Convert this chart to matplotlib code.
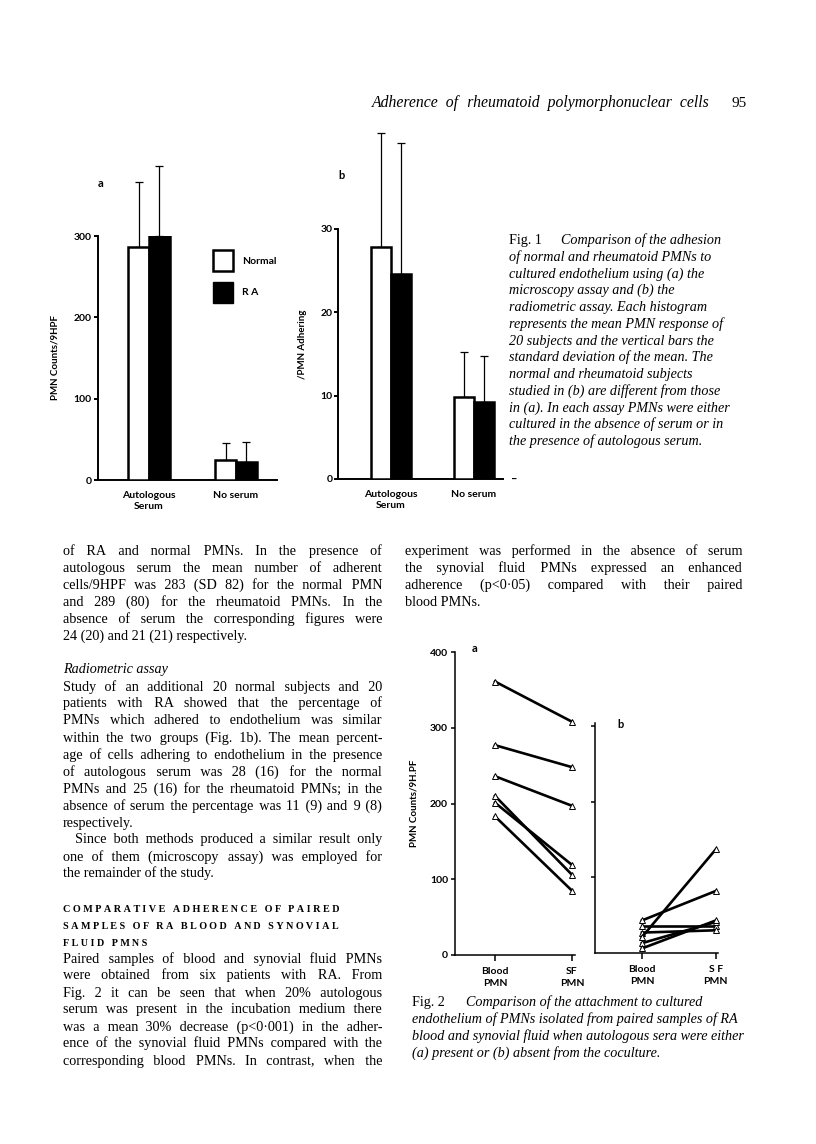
import matplotlib
matplotlib.use('Agg')
import matplotlib.pyplot as plt
from matplotlib.patches import Patch
from matplotlib.font_manager import FontProperties, findfont
from matplotlib.ft2font import FT2Font

W, H = 816, 1144

# Fig. 1 - mean adherence with SD (upper bars only)
groups = ['Autologous\nSerum', 'No serum']
micro_normal = [286, 24]
micro_normal_sd = [81, 22]
micro_ra = [300, 22]
micro_ra_sd = [86, 25]
radio_normal = [27.9, 9.9]
radio_normal_sd = [13.6, 5.4]
radio_ra = [24.6, 9.2]
radio_ra_sd = [15.7, 5.6]

# Fig. 2 - paired blood / synovial fluid PMNs
pair_labels = ['Blood\nPMN', 'SF\nPMN']
serum_blood = [361, 277, 236, 210, 201, 183]
serum_sf = [308, 248, 197, 106, 119, 85]
noserum_blood = [43, 36, 27, 21, 13, 6]
noserum_sf = [82, 36, 30, 137, 41, 43]

SANS = dict(family='Lato', weight='bold')
SERIF = 'Liberation Serif'

fig = plt.figure(figsize=(W / 100, H / 100), dpi=100)
renderer = fig.canvas.get_renderer()


def px_axes(left, top, right, bottom):
    return fig.add_axes([left / W, 1 - bottom / H, (right - left) / W, (bottom - top) / H])


def style(ax, lw=1.4, pad=1.5):
    for s in ['top', 'right']:
        ax.spines[s].set_visible(False)
    for s in ['left', 'bottom']:
        ax.spines[s].set_linewidth(lw)
    ax.tick_params(width=lw, length=3, labelsize=7.5)
    ax.tick_params(axis='y', pad=pad)
    for t in ax.get_yticklabels() + ax.get_xticklabels():
        t.set_fontfamily('Lato')
        t.set_fontweight('bold')


def put(s, x, y, **kw):
    return fig.text(x / W, 1 - y / H, s, va='baseline', **kw)


def width_of(s, **kw):
    t = fig.text(0, 0, s, **kw)
    w = t.get_window_extent(renderer).width
    t.remove()
    return w


# unicode spaces of different widths, used to stretch a line to a set width
_space_cache = {}


def space_set(**kw):
    key = tuple(sorted(kw.items()))
    if key not in _space_cache:
        fp = FontProperties(family=kw.get('family'), style=kw.get('style', 'normal'),
                            weight=kw.get('weight', 'normal'))
        ft = FT2Font(findfont(fp))
        base = width_of('xx', **kw)
        out = []
        for ch in '\u2003\u2002\u2004\u2005\u2006\u2009\u200a ':
            if ft.get_char_index(ord(ch)):
                w = width_of('x' + ch + 'x', **kw) - base
                if w > 0.3:
                    out.append((w, ch))
        out.sort(reverse=True)
        _space_cache[key] = out
    return _space_cache[key]


def gap(want, spaces):
    s, got = '', 0.0
    tol = spaces[-1][0] / 2
    for w, ch in spaces:
        while got + w <= want + tol:
            s += ch
            got += w
    return s, got


def justified(line, x0, x1, y, last=False, **kw):
    words = line.split()
    if last or len(words) < 2:
        put(line, x0, y, **kw)
        return
    spaces = space_set(**kw)
    extra = (x1 - x0 - width_of(' '.join(words), **kw)) / (len(words) - 1)
    out, carry = words[0], 0.0
    for w in words[1:]:
        g, got = gap(extra + carry, spaces)
        carry = extra + carry - got
        out += ' ' + g + w
    put(out, x0, y, **kw)


def tracked(text, x0, y, x1=None, extra=None, **kw):
    spaces = space_set(**kw)
    if extra is None:
        extra = (x1 - x0 - width_of(text, **kw)) / (len(text) - 1)
    out, carry = text[0], 0.0
    for ch in text[1:]:
        g, got = gap(extra + carry, spaces)
        carry = extra + carry - got
        out += g + ch
    put(out, x0, y, **kw)
    return extra


def bar_panel(ax, normal, nsd, ra, rsd, w=0.24):
    xs = list(range(len(groups)))
    ax.bar([x - w / 2 for x in xs], normal, w, color='white', edgecolor='black', lw=1.8, zorder=3)
    ax.bar([x + w / 2 for x in xs], ra, w, color='black', edgecolor='black', lw=1.8, zorder=3)
    for off, vals, sd in [(-w / 2, normal, nsd), (w / 2, ra, rsd)]:
        eb = ax.errorbar([x + off for x in xs], vals, yerr=[[0] * len(sd), sd], fmt='none',
                         ecolor='black', elinewidth=0.9, capsize=3, capthick=0.9, zorder=2)
        for a in eb.get_children():
            a.set_clip_on(False)
    ax.set_xticks(xs, groups, linespacing=1.3)


# ---- Fig 1a
ax = px_axes(98, 236, 277, 480)
bar_panel(ax, micro_normal, micro_normal_sd, micro_ra, micro_ra_sd)
ax.set_xlim(-0.586, 1.471)
ax.set_ylim(0, 300)
ax.set_yticks([0, 100, 200, 300])
style(ax)
ax.tick_params(axis='x', length=0, pad=8)
ax.set_ylabel('PMN Counts/9HPF', fontsize=7, labelpad=10, **SANS)
ax.text(0.0, 1.2, 'a', transform=ax.transAxes, fontsize=8, **SANS)
ax.legend(handles=[Patch(facecolor='white', edgecolor='black', lw=1.8),
                   Patch(facecolor='black', edgecolor='black')],
          labels=['Normal', 'R A'], loc='upper left', frameon=False,
          bbox_to_anchor=(213 / W, 1 - 250 / H), bbox_transform=fig.transFigure,
          borderpad=0, borderaxespad=0, handlelength=1.92, handleheight=2.7,
          handletextpad=0.9, labelspacing=1.05, prop=dict(family='Lato', weight='bold', size=7.5))

# ---- Fig 1b
ax = px_axes(338, 229, 503, 479)
bar_panel(ax, radio_normal, radio_normal_sd, radio_ra, radio_ra_sd)
ax.set_xlim(-0.64, 1.35)
ax.set_ylim(0, 30)
ax.set_yticks([0, 10, 20, 30])
style(ax, pad=1)
ax.tick_params(axis='x', length=0, pad=8)
ax.set_ylabel('/PMN Adhering', fontsize=7, **SANS)
ax.yaxis.set_label_coords(-0.185, 0.54)
ax.text(0.0, 1.2, 'b', transform=ax.transAxes, fontsize=8, **SANS)
ax.text(1.05, 0, '\u2013', transform=ax.transAxes, va='center', fontsize=8, **SANS)

# ---- Fig 2a
ax = px_axes(455, 652, 575, 955)
for b, s in zip(serum_blood, serum_sf):
    ax.plot([0, 1], [b, s], color='black', lw=1.9, marker='^', ms=4.5,
            mfc='white', mec='black', mew=0.7, clip_on=False)
ax.set_xlim(-0.52, 1.04)
ax.set_ylim(0, 400)
ax.set_yticks([0, 100, 200, 300, 400])
ax.set_xticks([0, 1], pair_labels, linespacing=1.3)
style(ax, lw=1.1, pad=2)
ax.tick_params(axis='x', length=4, pad=5)
ax.set_ylabel('PMN Counts/9H.PF', fontsize=7, labelpad=8, **SANS)
ax.text(0.14, 1.0, 'a', transform=ax.transAxes, fontsize=8, **SANS)

# ---- Fig 2b
ax = px_axes(595, 723, 718, 953)
for b, s in zip(noserum_blood, noserum_sf):
    ax.plot([0, 1], [b, s], color='black', lw=1.9, marker='^', ms=4.5,
            mfc='white', mec='black', mew=0.7, clip_on=False)
ax.set_xlim(-0.635, 1.03)
ax.set_ylim(0, 304)
ax.set_yticks([100, 200, 300], [])
ax.set_xticks([0, 1], ['Blood\nPMN', 'S F\nPMN'], linespacing=1.3)
style(ax, lw=1.1)
ax.tick_params(axis='x', length=4, pad=5)
ax.text(0.18, 0.98, 'b', transform=ax.transAxes, fontsize=8, **SANS)

# ---- page text
BODY = dict(family=SERIF, fontsize=10.2)
ITAL = dict(family=SERIF, fontsize=10.2, style='italic')

justified('Adherence of rheumatoid polymorphonuclear cells', 372, 710, 107,
          family=SERIF, fontsize=11.3, style='italic')
put('95', 731, 107, family=SERIF, fontsize=11)

cap1 = ['of normal and rheumatoid PMNs to',
        'cultured endothelium using (a) the',
        'microscopy assay and (b) the',
        'radiometric assay. Each histogram',
        'represents the mean PMN response of',
        '20 subjects and the vertical bars the',
        'standard deviation of the mean. The',
        'normal and rheumatoid subjects',
        'studied in (b) are different from those',
        'in (a). In each assay PMNs were either',
        'cultured in the absence of serum or in',
        'the presence of autologous serum.']
CAP = dict(family=SERIF, fontsize=10.2)
put('Fig. 1', 509, 244, **CAP)
put('Comparison of the adhesion', 561, 244, style='italic', **CAP)
for i, line in enumerate(cap1):
    put(line, 509, 244 + 16.75 * (i + 1), style='italic', **CAP)

left = [('of RA and normal PMNs. In the presence of', False),
        ('autologous serum the mean number of adherent', False),
        ('cells/9HPF was 283 (SD 82) for the normal PMN', False),
        ('and 289 (80) for the rheumatoid PMNs. In the', False),
        ('absence of serum the corresponding figures were', False),
        ('24 (20) and 21 (21) respectively.', True)]
y = 555
for line, last in left:
    justified(line, 63, 382, y, last, **BODY)
    y += 17
put('Radiometric assay', 63, 673.5, **ITAL)
left2 = [('Study of an additional 20 normal subjects and 20', False),
         ('patients with RA showed that the percentage of', False),
         ('PMNs which adhered to endothelium was similar', False),
         ('within the two groups (Fig. 1b). The mean percent-', False),
         ('age of cells adhering to endothelium in the presence', False),
         ('of autologous serum was 28 (16) for the normal', False),
         ('PMNs and 25 (16) for the rheumatoid PMNs; in the', False),
         ('absence of serum the percentage was 11 (9) and 9 (8)', False),
         ('respectively.', True)]
y = 690.5
for line, last in left2:
    justified(line, 63, 382, y, last, **BODY)
    y += 17
justified('Since both methods produced a similar result only', 75, 382, y, **BODY)
y += 17
justified('one of them (microscopy assay) was employed for', 63, 382, y, **BODY)
y += 17
put('the remainder of the study.', 63, y, **BODY)

HEAD = dict(family=SERIF, fontsize=7.3, weight='bold')
trk = tracked('COMPARATIVE ADHERENCE OF PAIRED', 63, 912, x1=336, **HEAD)
tracked('SAMPLES OF RA BLOOD AND SYNOVIAL', 63, 929, x1=337, **HEAD)
tracked('FLUID PMNS', 63, 946, extra=trk, **HEAD)

left3 = ['Paired samples of blood and synovial fluid PMNs',
         'were obtained from six patients with RA. From',
         'Fig. 2 it can be seen that when 20% autologous',
         'serum was present in the incubation medium there',
         'was a mean 30% decrease (p<0\u00b7001) in the adher-',
         'ence of the synovial fluid PMNs compared with the',
         'corresponding blood PMNs. In contrast, when the']
y = 962.5
for line in left3:
    justified(line, 63, 382, y, **BODY)
    y += 17

right = [('experiment was performed in the absence of serum', False),
         ('the synovial fluid PMNs expressed an enhanced', False),
         ('adherence (p<0\u00b705) compared with their paired', False),
         ('blood PMNs.', True)]
y = 555
for line, last in right:
    justified(line, 405, 742, y, last, **BODY)
    y += 17

cap2 = ['endothelium of PMNs isolated from paired samples of RA',
        'blood and synovial fluid when autologous sera were either',
        '(a) present or (b) absent from the coculture.']
put('Fig. 2', 412, 1006, **CAP)
put('Comparison of the attachment to cultured', 466, 1006, style='italic', **CAP)
for i, line in enumerate(cap2):
    put(line, 412, 1006 + 17 * (i + 1), style='italic', **CAP)

fig.savefig('out.png', dpi=100)
